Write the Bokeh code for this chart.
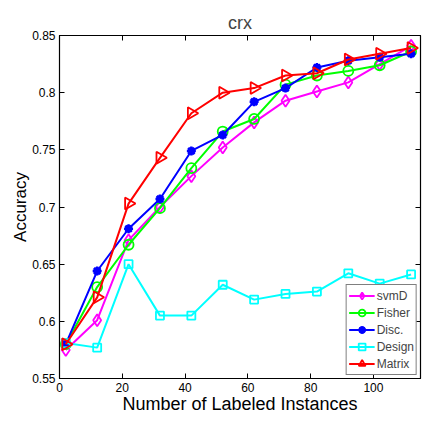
import math
from bokeh.plotting import figure
from bokeh.models import FixedTicker, LinearAxis, Range1d, Legend, LegendItem
from bokeh.embed import file_html
from bokeh.resources import INLINE

x = [2, 12, 22, 32, 42, 52, 62, 72, 82, 92, 102, 112]
svmD = [0.575, 0.601, 0.671, 0.700, 0.727, 0.752, 0.774, 0.793, 0.801, 0.809, 0.825, 0.841]
fisher = [0.580, 0.630, 0.667, 0.699, 0.734, 0.766, 0.777, 0.807, 0.815, 0.819, 0.824, 0.836]
disc = [0.580, 0.644, 0.681, 0.707, 0.749, 0.763, 0.792, 0.804, 0.822, 0.828, 0.831, 0.834]
design = [0.581, 0.577, 0.650, 0.605, 0.605, 0.632, 0.619, 0.624, 0.626, 0.642, 0.633, 0.641]
matrix = [0.580, 0.621, 0.703, 0.743, 0.782, 0.800, 0.804, 0.815, 0.817, 0.829, 0.834, 0.839]

x_ticks = [0, 20, 40, 60, 80, 100]
y_ticks = [0.55, 0.6, 0.65, 0.7, 0.75, 0.8, 0.85]
y_tick_labels = ["0.55", "0.6", "0.65", "0.7", "0.75", "0.8", "0.85"]

FONT = "Liberation Sans"

p = figure(width=422, height=421, output_backend="svg", toolbar_location=None,
           x_range=Range1d(0, 115), y_range=Range1d(0.55, 0.85),
           title="crx", min_border_left=59, min_border_right=2, min_border_top=35,
           min_border_bottom=43)
p.title.align = "center"
p.title.text_font = FONT
p.title.text_font_size = "18px"
p.title.text_font_style = "normal"
p.title.standoff = 5

p.xgrid.visible = False
p.ygrid.visible = False
p.outline_line_color = "black"
p.outline_line_width = 1.2

def style_axis(ax):
    ax.major_tick_in = 5
    ax.major_tick_out = 0
    ax.minor_tick_line_color = None
    ax.axis_line_color = "black"
    ax.major_tick_line_color = "black"
    ax.major_label_text_font = FONT
    ax.major_label_text_font_size = "12px"
    ax.major_label_text_color = "black"
    ax.axis_label_text_font = FONT
    ax.axis_label_text_font_style = "normal"
    ax.axis_label_text_color = "black"

xa = p.xaxis[0]
style_axis(xa)
xa.ticker = FixedTicker(ticks=x_ticks)
xa.axis_label = "Number of Labeled Instances"
xa.axis_label_text_font_size = "18px"
xa.axis_label_standoff = -1
xa.major_label_standoff = 4

ya = p.yaxis[0]
style_axis(ya)
ya.ticker = FixedTicker(ticks=y_ticks)
ya.major_label_overrides = {t: l for t, l in zip(y_ticks, y_tick_labels)}
ya.axis_label = "Accuracy"
ya.axis_label_text_font_size = "17px"
ya.axis_label_standoff = -1
ya.major_label_standoff = 4

top = LinearAxis(ticker=FixedTicker(ticks=x_ticks))
style_axis(top)
top.major_label_text_color = None
top.major_label_standoff = 0
p.add_layout(top, "above")
right = LinearAxis(ticker=FixedTicker(ticks=y_ticks))
style_axis(right)
right.major_label_text_color = None
right.major_label_standoff = 0
p.add_layout(right, "right")

series = [
    ("svmD", svmD, "#ff00ff", "diamond", 12, 0),
    ("Fisher", fisher, "#00ff00", "circle", 10, 0),
    ("Disc.", disc, "#0000ff", "asterisk", 9, 0),
    ("Design", design, "#00ffff", "square", 8, 0),
    ("Matrix", matrix, "#ff0000", "triangle", 12, -math.pi / 2),
]

items = []
for name, ys, color, marker, size, ang in series:
    ln = p.line(x, ys, line_color=color, line_width=2)
    if marker == "asterisk":
        sc = p.scatter(x, ys, marker="circle", size=7, fill_color=color, line_color=color)
        sc2 = p.scatter(x, ys, marker="asterisk", size=size, line_color=color, line_width=2.5)
        items.append(LegendItem(label=name, renderers=[ln, sc, sc2]))
    else:
        sc = p.scatter(x, ys, marker=marker, size=size, line_color=color, fill_alpha=0,
                       line_width=1.8, angle=ang)
        items.append(LegendItem(label=name, renderers=[ln, sc]))

leg = Legend(items=items, location="bottom_right")
leg.label_text_font = FONT
leg.label_text_font_size = "12px"
leg.border_line_color = "black"
leg.border_line_width = 1.2
leg.glyph_width = 26
leg.glyph_height = 17
leg.label_height = 17
leg.spacing = 0
leg.padding = 2
leg.margin = 3
leg.label_standoff = 2
leg.background_fill_alpha = 1
p.add_layout(leg)

open("out.html", "w").write(file_html(p, INLINE))
